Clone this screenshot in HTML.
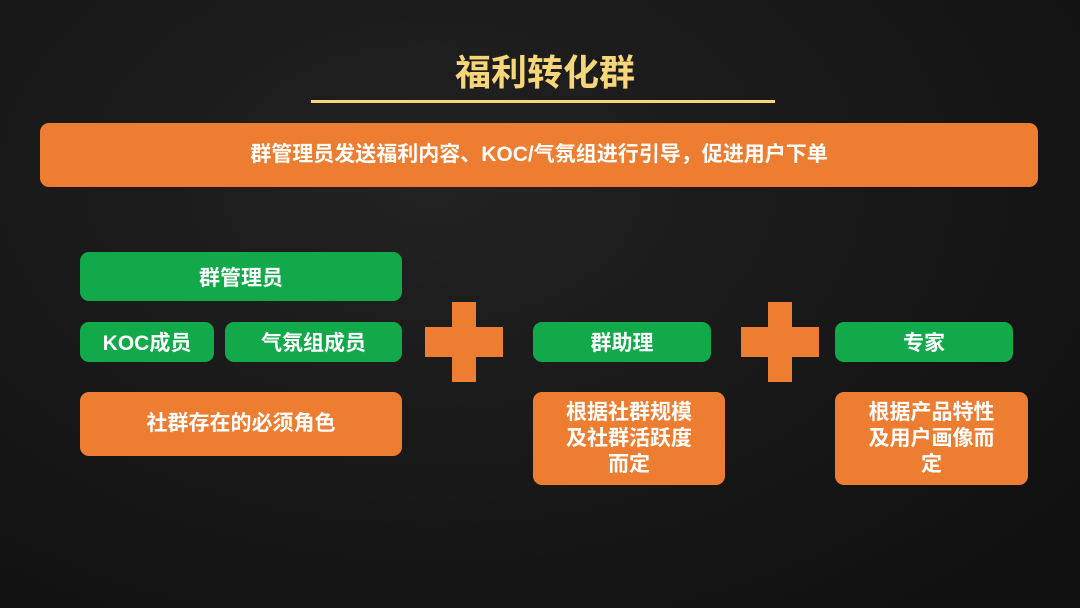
<!DOCTYPE html>
<html><head><meta charset="utf-8"><style>
body{margin:0;width:1080px;height:608px;overflow:hidden;background:radial-gradient(ellipse at 40% 30%,#222,#141414 70%,#0f0f0f);font-family:"Liberation Sans","Noto Sans CJK SC",sans-serif;font-weight:bold;position:relative}
.b{position:absolute;display:flex;align-items:center;justify-content:center;text-align:center;color:#fff;border-radius:9px}
.g{background:#12a94a;font-size:21px}
.o{background:#ed7d31;font-size:21px;line-height:26px}
.p{position:absolute;background:#ed7d31}
</style></head><body>
<div style="position:absolute;left:0;width:1090px;top:44px;text-align:center;color:#f7d67a;font-size:36px">福利转化群</div>
<div style="position:absolute;left:311px;top:100px;width:464px;height:3px;background:#f7d67a"></div>
<div class="b o" style="left:40px;top:123px;width:998px;height:64px;font-size:21px">群管理员发送福利内容、KOC/气氛组进行引导，促进用户下单</div>
<div class="b g" style="left:80px;top:252px;width:322px;height:49px">群管理员</div>
<div class="b g" style="left:80px;top:322px;width:134px;height:40px">KOC成员</div>
<div class="b g" style="left:225px;top:322px;width:177px;height:40px">气氛组成员</div>
<div class="b o" style="left:80px;top:392px;width:322px;height:64px">社群存在的必须角色</div>
<div class="p" style="left:452px;top:302px;width:24px;height:80px"></div>
<div class="p" style="left:425px;top:327px;width:78px;height:30px"></div>
<div class="b g" style="left:533px;top:322px;width:178px;height:40px">群助理</div>
<div class="b o" style="left:533px;top:392px;width:192px;height:93px">根据社群规模<br>及社群活跃度<br>而定</div>
<div class="p" style="left:768px;top:302px;width:24px;height:80px"></div>
<div class="p" style="left:741px;top:327px;width:78px;height:30px"></div>
<div class="b g" style="left:835px;top:322px;width:178px;height:40px">专家</div>
<div class="b o" style="left:835px;top:392px;width:193px;height:93px">根据产品特性<br>及用户画像而<br>定</div>
</body></html>
